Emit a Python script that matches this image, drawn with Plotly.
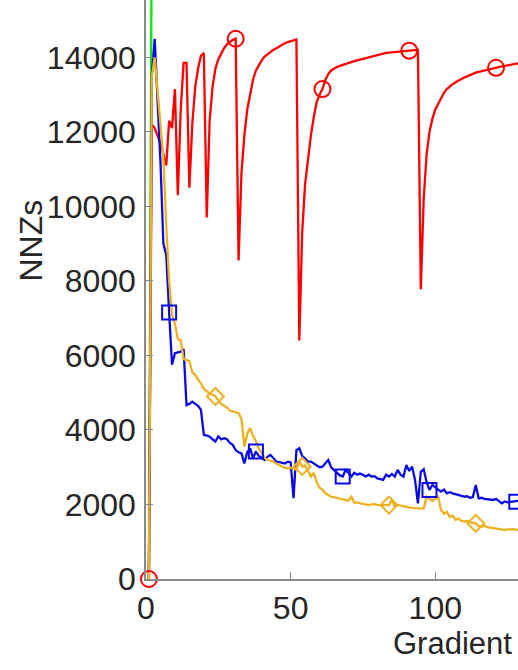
import plotly.graph_objects as go

# iteration index (MATLAB style, starts at 1)
iters = list(range(1, 130))

red_nnz = [
    0, 12200, 12100, 11900, 11700, 11400, 11100, 12300, 12100, 13150,
    10300, 12600, 13850, 13850, 10500, 12200, 13200, 13700, 14050, 14120,
    9700, 12300, 13200, 13700, 13950, 14100, 14250, 14350, 14420, 14470,
    14500, 8550, 10900, 11900, 12600, 13050, 13400, 13650, 13800, 13920,
    14020, 14090, 14140, 14200, 14250, 14300, 14350, 14380, 14410, 14440,
    14460, 14480, 6400, 9300, 10600, 11300, 11900, 12400, 12800, 13000,
    13150, 13400, 13550, 13650, 13700, 13740, 13770, 13800, 13830, 13850,
    13870, 13900, 13920, 13940, 13960, 13990, 14010, 14030, 14050, 14070,
    14080, 14100, 14120, 14130, 14140, 14150, 14160, 14165, 14170, 14175,
    14180, 14190, 14195, 14200, 7780, 10200, 11400, 12000, 12350, 12600,
    12750, 12900, 13050, 13150, 13220, 13280, 13330, 13380, 13420, 13460,
    13490, 13530, 13560, 13590, 13610, 13630, 13650, 13670, 13690, 13705,
    13720, 13740, 13760, 13770, 13790, 13800, 13810, 13830, 13840,
]

blue_nnz = [
    0, 13500, 14500, 12800, 11200, 9000, 8700, 7150, 5750, 6060,
    6080, 6100, 6170, 4670, 4700, 4760, 4700, 4650, 4540, 3870,
    3850, 3820, 3750, 3690, 3830, 3750, 3780, 3750, 3650, 3600,
    3460, 3400, 3370, 3100, 3400, 3510, 3240, 3420, 3300, 3250,
    3195, 3280, 3330, 3250, 3150, 3140, 3120, 3100, 3150, 3130,
    2170, 3460, 3510, 3300, 3240, 3150, 3150, 3100, 3050, 3000,
    3015, 3100, 3195, 3000, 2925, 2850, 2780, 2750, 2925, 2850,
    2750, 2850, 2800, 2830, 2790, 2750, 2800, 2750, 2760, 2700,
    2680, 2660, 2800, 2750, 2820, 2750, 2930, 2800, 2750, 3060,
    2900, 3015, 2660, 2030, 2880, 2950, 2600, 2390, 2525, 2450,
    2400, 2345, 2400, 2300, 2330, 2300, 2280, 2250, 2230, 2210,
    2220, 2180, 2200, 2525, 2165, 2180, 2150, 2140, 2130, 2120,
    2150, 2100, 2030, 2080, 2060, 2070, 2075, 2075, 2100,
]

yellow_nnz = [
    0, 13500, 14000, 13100, 12200, 11300, 9500, 8000, 7100, 6850,
    6450, 6400, 5900, 5880, 5850, 5550, 5480, 5350, 5250, 5100,
    5030, 4980, 4950, 4900, 4800, 4700, 4650, 4600, 4520, 4490,
    4470, 4450, 4300, 3550, 3900, 4050, 3850, 3700, 3500, 3380,
    3250, 3200, 3180, 3150, 3100, 3060, 3030, 2980, 2970, 2990,
    2960, 2930, 3150, 3020, 3050, 2900, 2750, 2850, 2600, 2450,
    2400, 2300, 2250, 2210, 2200, 2180, 2150, 2120, 2110, 2100,
    2210, 2050, 2050, 2030, 2020, 2000, 1985, 2000, 2010, 1990,
    1990, 2000, 2000, 1985, 2120, 1950, 1990, 1970, 1940, 1930,
    1920, 1910, 1900, 1910, 1900, 1890, 2210, 2150, 2100, 2150,
    2210, 1850, 1750, 1800, 1670, 1700, 1590, 1620, 1560, 1540,
    1560, 1520, 1500, 1495, 1420, 1400, 1430, 1390, 1380, 1370,
    1350, 1340, 1330, 1320, 1330, 1340, 1335, 1320, 1330,
]

# green run shoots off the top of the axes
green_iters = [1, 2]
green_nnz = [0, 18000]

# every 30th point gets a marker, each series with its own offset
red_mk = list(range(0, len(iters), 30))
blue_mk = list(range(7, len(iters), 30))
yellow_mk = list(range(23, len(iters), 30))

RED = "#ff0000"
BLUE = "#0a0ae6"
YELLOW = "#edb120"
GREEN = "#00ee00"
TXT = "#262626"
AX = "#8a8a8a"
LW = 2.3

fig = go.Figure()

fig.add_trace(go.Scatter(x=green_iters, y=green_nnz, mode="lines",
                         line=dict(color=GREEN, width=LW)))
fig.add_trace(go.Scatter(x=iters, y=red_nnz, mode="lines",
                         line=dict(color=RED, width=LW)))
fig.add_trace(go.Scatter(x=iters, y=blue_nnz, mode="lines",
                         line=dict(color=BLUE, width=LW)))
fig.add_trace(go.Scatter(x=iters, y=yellow_nnz, mode="lines",
                         line=dict(color=YELLOW, width=LW)))

for vals, idx, sym, size, col in [
    (red_nnz, red_mk, "circle-open", 16, RED),
    (blue_nnz, blue_mk, "square-open", 14, BLUE),
    (yellow_nnz, yellow_mk, "diamond-open", 13, YELLOW),
]:
    fig.add_trace(go.Scatter(
        x=[iters[i] for i in idx], y=[vals[i] for i in idx],
        mode="markers", cliponaxis=False,
        marker=dict(symbol=sym, size=size, color=col, line=dict(color=col, width=2)),
    ))

fig.update_layout(
    width=518, height=670,
    margin=dict(l=146, r=0, t=0, b=91),
    paper_bgcolor="white", plot_bgcolor="white",
    showlegend=False,
    font=dict(family="Liberation Sans", size=32, color=TXT),
    xaxis=dict(range=[0, 128.6], tickvals=[0, 50, 100], ticks="inside", ticklen=7,
               tickcolor=AX, showline=True, linecolor=AX, linewidth=1.5,
               showgrid=False, zeroline=False, ticklabelstandoff=0),
    yaxis=dict(range=[0, 15540], dtick=2000, tickformat="d", ticks="inside", ticklen=7,
               tickcolor=AX, showline=True, linecolor=AX, linewidth=1.5,
               showgrid=False, zeroline=False, ticklabelstandoff=2),
    annotations=[
        dict(text="NNZs", xref="paper", yref="paper", x=-0.31, y=0.584,
             textangle=-90, showarrow=False, xanchor="center", yanchor="middle",
             font=dict(size=32, color=TXT)),
        dict(text="Gradient", xref="paper", yref="paper", x=0.6586, y=-0.111,
             showarrow=False, xanchor="left", yanchor="middle",
             font=dict(size=31, color=TXT)),
    ],
)

# drop the default page margin so the figure sits at the window corner
fig.write_html("out.html", config={"displayModeBar": False},
               post_script="document.body.style.margin='0';")
